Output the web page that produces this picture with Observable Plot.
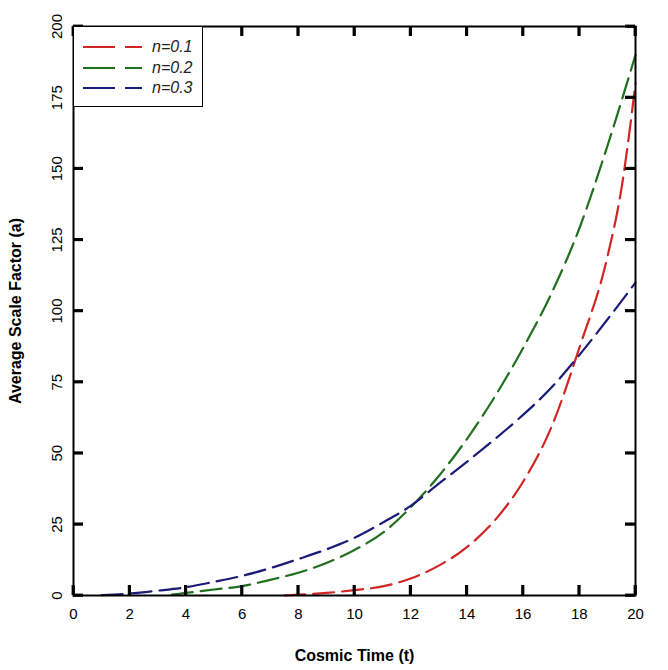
<!DOCTYPE html>
<html><head><meta charset="utf-8">
<script src="https://cdn.jsdelivr.net/npm/d3@7"></script>
<script src="https://cdn.jsdelivr.net/npm/@observablehq/plot@0.6"></script>
<style>
body{margin:0;background:#fff;font-family:"Liberation Sans",Arial,sans-serif;}
#wrap{position:relative;width:668px;height:670px;}
#legend{position:absolute;left:73px;top:26px;width:130px;height:81px;box-sizing:border-box;border:1.5px solid #000;background:#fff;}
#legend .row{position:absolute;left:0;height:20px;display:flex;align-items:center;}
#legend .row span{font-style:italic;font-size:16px;margin-left:9px;color:#222;}
g[aria-label="x-axis label"] text, g[aria-label="y-axis label"] text{font-weight:bold;font-size:16px;}
</style></head><body><div id="wrap"></div>
<script>
const seriesNames = ["n=0.1", "n=0.2", "n=0.3"];
const seriesColors = ["#d02525", "#1f6f1f", "#1b1b78"];

const tRed = [7.5, 8, 9, 10, 11, 12, 13, 14, 15, 16, 17, 18, 19, 19.5, 20];
const aRed = [0, 0.3, 0.9, 1.9, 3.2, 6, 10.5, 17, 26.5, 40, 59, 87, 119, 143, 180];

const tGreen = [3.5, 4, 5, 6, 7, 8, 9, 10, 11, 12, 13, 14, 15, 16, 17, 18, 19, 20];
const aGreen = [0.3, 0.9, 2.1, 3.3, 5.5, 8, 11.4, 16, 22, 31, 42, 55, 70, 87, 106, 129, 158, 190];

const tBlue = [1, 2, 3, 4, 5, 6, 7, 8, 9, 10, 11, 12, 13, 14, 15, 16, 17, 18, 19, 20];
const aBlue = [0.1, 0.7, 1.7, 2.9, 4.8, 6.9, 9.6, 12.8, 16.2, 20.3, 25.6, 31.5, 39.3, 47, 55, 63.5, 73, 84.5, 97, 110];

const xTicks = [0, 2, 4, 6, 8, 10, 12, 14, 16, 18, 20];
const yTicks = [0, 25, 50, 75, 100, 125, 150, 175, 200];
const xDomain = [0, 20];
const yDomain = [0, 200];

const seriesT = [tRed, tGreen, tBlue];
const seriesA = [aRed, aGreen, aBlue];
const data = seriesNames.flatMap((name, i) => seriesT[i].map((t, j) => ({series: name, t, a: seriesA[i][j]})));

const W = 668, H = 670, ML = 73, MR = 33, MT = 26, MB = 75, TK = 10, TW = 1.4;
const FW = W - ML - MR, FH = H - MT - MB;
// tick length / half-width expressed in data units
const kY = (yDomain[1] - yDomain[0]) / FH;
const kX = (xDomain[1] - xDomain[0]) / FW;
const tkY = TK * kY, twY = TW * kY;
const tkX = TK * kX, twX = TW * kX;

const plot = Plot.plot({
  width: W, height: H,
  marginLeft: ML, marginRight: MR, marginTop: MT, marginBottom: MB,
  style: {fontFamily: '"Liberation Sans", Arial, sans-serif', fontSize: "15px", color: "#000", background: "#fff"},
  x: {domain: xDomain},
  y: {domain: yDomain},
  color: {domain: seriesNames, range: seriesColors},
  marks: [
    Plot.line(data, {x: "t", y: "a", z: "series", stroke: "series", strokeWidth: 2.2, strokeDasharray: "21,8", curve: "monotone-x"}),
    Plot.axisX(xTicks, {anchor: "bottom", tickSize: 0, tickPadding: 13, fontSize: 15, label: "Cosmic Time (t)", labelArrow: "none", labelAnchor: "center", labelOffset: 65}),
    Plot.axisY(yTicks, {anchor: "left", tickSize: 0, tickPadding: 16, rotate: -90, textAnchor: "middle", fontSize: 15, label: "Average Scale Factor (a)", labelArrow: "none", labelAnchor: "center", labelOffset: 64}),
    Plot.rect(xTicks, {x1: d => d - twX, x2: d => d + twX, y1: yDomain[0], y2: yDomain[0] + tkY, fill: "black"}),
    Plot.rect(xTicks, {x1: d => d - twX, x2: d => d + twX, y1: yDomain[1] - tkY, y2: yDomain[1], fill: "black"}),
    Plot.rect(yTicks, {y1: d => d - twY, y2: d => d + twY, x1: xDomain[0], x2: xDomain[0] + tkX, fill: "black"}),
    Plot.rect(yTicks, {y1: d => d - twY, y2: d => d + twY, x1: xDomain[1] - tkX, x2: xDomain[1], fill: "black"}),
    Plot.ruleX(xTicks, {x: d => d, y1: yDomain[0], y2: yDomain[0] + tkY, stroke: "black", strokeWidth: 2.5}),
    Plot.ruleX(xTicks, {x: d => d, y1: yDomain[1] - tkY, y2: yDomain[1], stroke: "black", strokeWidth: 2.5}),
    Plot.ruleY(yTicks, {y: d => d, x1: xDomain[0], x2: xDomain[0] + tkX, stroke: "black", strokeWidth: 2.5}),
    Plot.ruleY(yTicks, {y: d => d, x1: xDomain[1] - tkX, x2: xDomain[1], stroke: "black", strokeWidth: 2.5}),
    Plot.frame({stroke: "#000", strokeWidth: 2})
  ]
});
const wrap = document.getElementById("wrap");
wrap.appendChild(plot);

const legend = d3.select(wrap).append("div").attr("id", "legend");
seriesNames.forEach((name, i) => {
  const row = legend.append("div").attr("class", "row").style("top", (10 + i * 20.5) + "px").style("left", "9px");
  const svg = row.append("svg").attr("width", 60).attr("height", 10);
  svg.append("line").attr("x1", 0).attr("x2", 59).attr("y1", 5).attr("y2", 5)
    .attr("stroke", seriesColors[i]).attr("stroke-width", 2.2).attr("stroke-dasharray", "32,10");
  row.append("span").text(name);
});
</script>
</body></html>
